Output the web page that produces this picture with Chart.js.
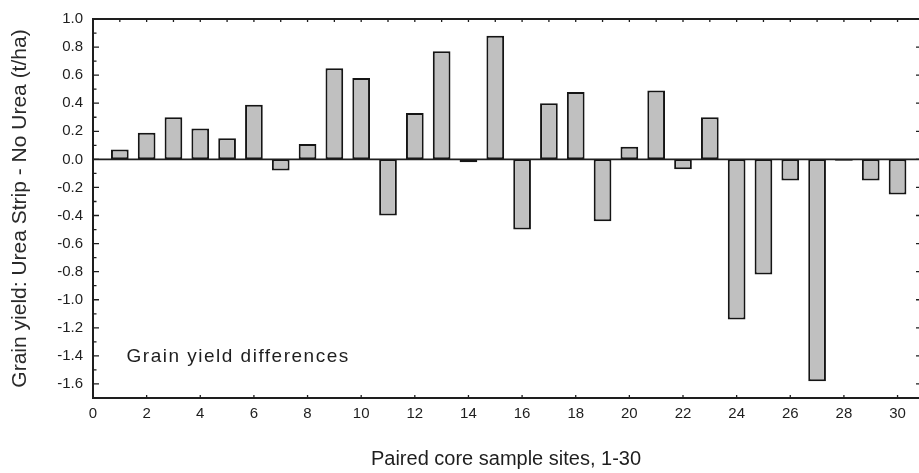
<!DOCTYPE html>
<html>
<head>
<meta charset="utf-8">
<script src="https://cdn.jsdelivr.net/npm/chart.js@4/dist/chart.umd.min.js"></script>
<style>
  html, body { margin: 0; padding: 0; background: #fff; }
  #wrap { width: 919px; height: 473px; }
</style>
</head>
<body>
<div id="wrap"><canvas id="yieldChart" width="919" height="473"></canvas></div>
<script>
// paired sites and the yield difference (urea strip minus no urea), t/ha
const sites = [1, 2, 3, 4, 5, 6, 7, 8, 9, 10, 11, 12, 13, 14, 15,
               16, 17, 18, 19, 20, 21, 22, 23, 24, 25, 26, 27, 28, 29, 30];
const yieldDiff = [0.07, 0.19, 0.30, 0.22, 0.15, 0.39, -0.08, 0.11, 0.65, 0.58,
                   -0.40, 0.33, 0.77, -0.02, 0.88, -0.50, 0.40, 0.48, -0.44, 0.09,
                   0.49, -0.07, 0.30, -1.14, -0.82, -0.15, -1.58, -0.01, -0.15, -0.25];

// tick labels
const xTicks = [0, 2, 4, 6, 8, 10, 12, 14, 16, 18, 20, 22, 24, 26, 28, 30];
const yTicks = [-1.6, -1.4, -1.2, -1.0, -0.8, -0.6, -0.4, -0.2, 0.0, 0.2, 0.4, 0.6, 0.8, 1.0];
const yMinor = [-1.7, -1.5, -1.3, -1.1, -0.9, -0.7, -0.5, -0.3, -0.1, 0.1, 0.3, 0.5, 0.7, 0.9];

const noteText = "Grain yield differences";
const FONT = "'Liberation Sans', Arial, sans-serif";
const INK = "#1e1e1e";

// frame, inward tick marks, zero line and the note
const framePlugin = {
    id: "frame",
    afterDatasetsDraw(chart) {
        const { ctx, chartArea: a, scales: { x, y } } = chart;
        ctx.save();
        ctx.strokeStyle = INK;
        ctx.lineWidth = 1.6;

        // zero line
        const y0 = y.getPixelForValue(0);
        ctx.beginPath();
        ctx.moveTo(a.left, y0);
        ctx.lineTo(a.right, y0);
        ctx.stroke();

        // left, top, bottom lines
        ctx.lineWidth = 2;
        ctx.beginPath();
        ctx.moveTo(a.right + 2, a.top);
        ctx.lineTo(a.left, a.top);
        ctx.lineTo(a.left, a.bottom);
        ctx.lineTo(a.right + 2, a.bottom);
        ctx.stroke();

        ctx.lineWidth = 1.3;
        ctx.beginPath();
        // left majors and minors
        yTicks.forEach(v => {
            const py = y.getPixelForValue(v);
            ctx.moveTo(a.left, py); ctx.lineTo(a.left + 6, py);
            ctx.moveTo(a.right, py); ctx.lineTo(a.right - 3, py);
        });
        yMinor.forEach(v => {
            const py = y.getPixelForValue(v);
            ctx.moveTo(a.left, py); ctx.lineTo(a.left + 3.5, py);
        });
        // top ticks every site, bottom ticks at labels
        sites.forEach(s => {
            const px = x.getPixelForValue(s);
            ctx.moveTo(px, a.top); ctx.lineTo(px, a.top + 3);
        });
        xTicks.forEach(s => {
            if (s === 0) return;
            const px = x.getPixelForValue(s);
            ctx.moveTo(px, a.bottom); ctx.lineTo(px, a.bottom - 3);
        });
        ctx.stroke();

        // note inside the plot
        ctx.fillStyle = INK;
        ctx.font = "19px " + FONT;
        ctx.letterSpacing = "1.5px";
        ctx.textBaseline = "alphabetic";
        ctx.textAlign = "left";
        ctx.fillText(noteText, x.getPixelForValue(1.25), y.getPixelForValue(-1.44));
        ctx.restore();
    }
};

const ctx = document.getElementById("yieldChart").getContext("2d");

new Chart(ctx, {
    type: "bar",
    data: {
        datasets: [{
            label: "Grain yield differences",
            data: sites.map((s, i) => ({ x: s, y: yieldDiff[i] })),
            backgroundColor: "#c0c0c0",
            borderColor: "#151515",
            borderWidth: 2,
            borderSkipped: false,
            barPercentage: 0.66,
            categoryPercentage: 1.0
        }]
    },
    options: {
        responsive: false,
        animation: false,
        layout: { padding: { top: 17, right: 0, bottom: 0, left: 0 } },
        plugins: {
            legend: { display: false },
            tooltip: { enabled: false }
        },
        scales: {
            x: {
                type: "linear",
                min: 0,
                max: 30.8,
                offset: false,
                grid: { display: false, drawTicks: false },
                border: { display: false },
                afterBuildTicks: s => { s.ticks = xTicks.map(v => ({ value: v })); },
                afterFit: s => { s.height = 75; },
                ticks: {
                    color: INK,
                    padding: 7,
                    maxRotation: 0,
                    font: { family: FONT, size: 15 }
                },
                title: {
                    display: true,
                    text: "Paired core sample sites, 1-30",
                    color: INK,
                    padding: { top: 0, bottom: 2 },
                    font: { family: FONT, size: 20 }
                }
            },
            y: {
                min: -1.7,
                max: 1.0,
                grid: { display: false, drawTicks: false },
                border: { display: false },
                afterBuildTicks: s => { s.ticks = yTicks.map(v => ({ value: v })); },
                afterFit: s => { s.width = 93; },
                ticks: {
                    color: INK,
                    padding: 10,
                    font: { family: FONT, size: 15 },
                    callback: v => v.toFixed(1)
                },
                title: {
                    display: true,
                    text: "Grain yield: Urea Strip - No Urea (t/ha)",
                    color: "#2a2a2a",
                    padding: { top: 8, bottom: 0 },
                    font: { family: FONT, size: 21 }
                }
            }
        }
    },
    plugins: [framePlugin]
});
</script>
</body>
</html>
